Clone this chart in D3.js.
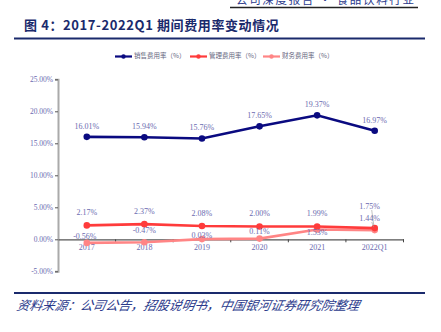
<!DOCTYPE html>
<html>
<head>
<meta charset="utf-8">
<script src="https://cdn.jsdelivr.net/npm/d3@7/dist/d3.min.js"></script>
<style>
  html, body { margin: 0; padding: 0; background: #fff; }
  svg { display: block; }
</style>
</head>
<body>
<svg id="chart" width="441" height="332"></svg>
<script>
// Period expense ratios, 2017 – 2022Q1 (%)
const categories = ["2017", "2018", "2019", "2020", "2021", "2022Q1"];
const salesRatio = [16.01, 15.94, 15.76, 17.65, 19.37, 16.97];
const adminRatio = [2.17, 2.37, 2.08, 2.00, 1.99, 1.75];
const financeRatio = [-0.56, -0.47, 0.03, 0.11, 1.53, 1.44];
const yTicks = [-5, 0, 5, 10, 15, 20, 25];
const seriesNames = ["销售费用率（%）", "管理费用率（%）", "财务费用率（%）"];

const svg = d3.select("#chart");
const serif = "'Liberation Serif', 'DejaVu Serif', serif";
const cjk = "'Noto Sans CJK SC', sans-serif";
const navy = "#1a2a6c";
const labelColor = "#6b6bb0";

// Header rule with clipped running title
svg.append("text").attr("x", 236).attr("y", 3.5)
  .attr("font-family", cjk).attr("font-size", 11.5).attr("fill", "#2b3a8c")
  .attr("textLength", 178).attr("lengthAdjust", "spacing")
  .text("公司深度报告 · 食品饮料行业");
svg.append("line").attr("x1", 230).attr("x2", 418).attr("y1", 7.5).attr("y2", 7.5)
  .attr("stroke", "#222").attr("stroke-width", 1.5);

// Figure title
svg.append("text").attr("x", 24).attr("y", 30)
  .attr("font-family", cjk).attr("font-size", 13).attr("font-weight", "bold")
  .attr("fill", navy).attr("letter-spacing", 0.6)
  .text("图 4：2017-2022Q1 期间费用率变动情况");
svg.append("line").attr("x1", 14).attr("x2", 425).attr("y1", 38.5).attr("y2", 38.5)
  .attr("stroke", navy).attr("stroke-width", 2);

// Bottom rule and source note
svg.append("line").attr("x1", 14).attr("x2", 425).attr("y1", 293).attr("y2", 293)
  .attr("stroke", navy).attr("stroke-width", 2);
svg.append("text").attr("x", 16).attr("y", 310.5)
  .attr("font-family", cjk).attr("font-size", 12.7).attr("fill", "#2b3a8c")
  .attr("font-style", "italic").attr("transform", "skewX(-12) translate(66,0)")
  .text("资料来源：公司公告，招股说明书，中国银河证券研究院整理");

// Scales
const x = d3.scaleBand().domain(categories).range([58, 403.5]).padding(0);
const y = d3.scaleLinear().domain([-5, 25]).range([271.3, 79.3]);
const cx = c => x(c) + x.bandwidth() / 2;

// Y axis
const yAxis = svg.append("g").attr("transform", "translate(58,0)")
  .call(d3.axisLeft(y).tickValues(yTicks).tickSize(3).tickFormat(d => d.toFixed(2) + "%"));
yAxis.select(".domain").attr("stroke", "#aaa").attr("stroke-width", 2);
yAxis.selectAll(".tick line").attr("stroke", "#555");
yAxis.selectAll(".tick text").attr("font-family", serif).attr("font-size", 7.5)
  .attr("fill", labelColor).attr("x", -5);

// X axis on the zero line, ticks between categories
const xAxis = svg.append("g").attr("transform", `translate(0,${y(0)})`)
  .call(d3.axisBottom(x).tickSize(0).tickPadding(5));
xAxis.select(".domain").attr("stroke", "#555").attr("stroke-width", 1.2);
xAxis.selectAll(".tick text").attr("font-family", serif).attr("font-size", 8)
  .attr("fill", labelColor);
xAxis.selectAll(".sep").data(categories.slice(1).concat(["end"])).join("line")
  .attr("class", "sep")
  .attr("x1", (d, i) => x.range()[0] + x.bandwidth() * (i + 1))
  .attr("x2", (d, i) => x.range()[0] + x.bandwidth() * (i + 1))
  .attr("y1", 0).attr("y2", 3).attr("stroke", "#444");

// Series definitions with label nudges (dx, dy from the point)
const series = [
  { name: seriesNames[0], values: salesRatio, color: "#0a0a80",
    nudge: [[0,-10],[0,-10],[0,-10],[0,-10],[0,-10],[0,-10]] },
  { name: seriesNames[1], values: adminRatio, color: "#ff3b3b",
    nudge: [[0,-12],[0,-12],[0,-12],[0,-12],[0,-12],[-5,-21]] },
  { name: seriesNames[2], values: financeRatio, color: "#ff8585",
    nudge: [[-2,-6],[0,-11],[0,-3],[0,-6],[0,4],[-5,-10.5]] }
];

const line = d3.line().x(d => cx(d.c)).y(d => y(d.v));

// draw finance first, then admin, then sales on top
[2, 1, 0].forEach(k => {
  const s = series[k];
  const pts = categories.map((c, i) => ({ c, v: s.values[i] }));
  svg.append("path").datum(pts).attr("d", line)
    .attr("fill", "none").attr("stroke", s.color).attr("stroke-width", 2.6);
  svg.append("g").selectAll("circle").data(pts).join("circle")
    .attr("cx", d => cx(d.c)).attr("cy", d => y(d.v)).attr("r", 3.3)
    .attr("fill", s.color);
});

// Leader lines for the crowded 2022Q1 labels
const last = categories[categories.length - 1];
[1, 2].forEach(k => {
  const v = series[k].values[categories.length - 1];
  svg.append("line").attr("x1", cx(last) - 3).attr("y1", k === 1 ? 210 : 222)
    .attr("x2", cx(last) - 1).attr("y2", y(v) - 3)
    .attr("stroke", "#999").attr("stroke-width", 0.6);
});

// Value labels
series.forEach(s => {
  svg.append("g").selectAll("text").data(s.values).join("text")
    .attr("x", (v, i) => cx(categories[i]) + s.nudge[i][0])
    .attr("y", (v, i) => y(v) + s.nudge[i][1])
    .attr("text-anchor", "middle").attr("dominant-baseline", "middle")
    .attr("font-family", serif).attr("font-size", 8).attr("fill", labelColor)
    .text(v => v.toFixed(2) + "%");
});

// Legend
const legendX = [115, 190, 263];
const legend = svg.append("g").selectAll("g").data(series).join("g")
  .attr("transform", (d, i) => `translate(${legendX[i]},56.5)`);
legend.append("line").attr("x1", 0).attr("x2", 17).attr("y1", 0).attr("y2", 0)
  .attr("stroke", d => d.color).attr("stroke-width", 2.2);
legend.append("circle").attr("cx", 8.5).attr("cy", 0).attr("r", 2.2)
  .attr("fill", d => d.color);
legend.append("text").attr("x", 19).attr("y", 0).attr("dominant-baseline", "middle")
  .attr("font-family", cjk).attr("font-size", 6.5).attr("fill", "#666680")
  .text(d => d.name);
</script>
</body>
</html>
